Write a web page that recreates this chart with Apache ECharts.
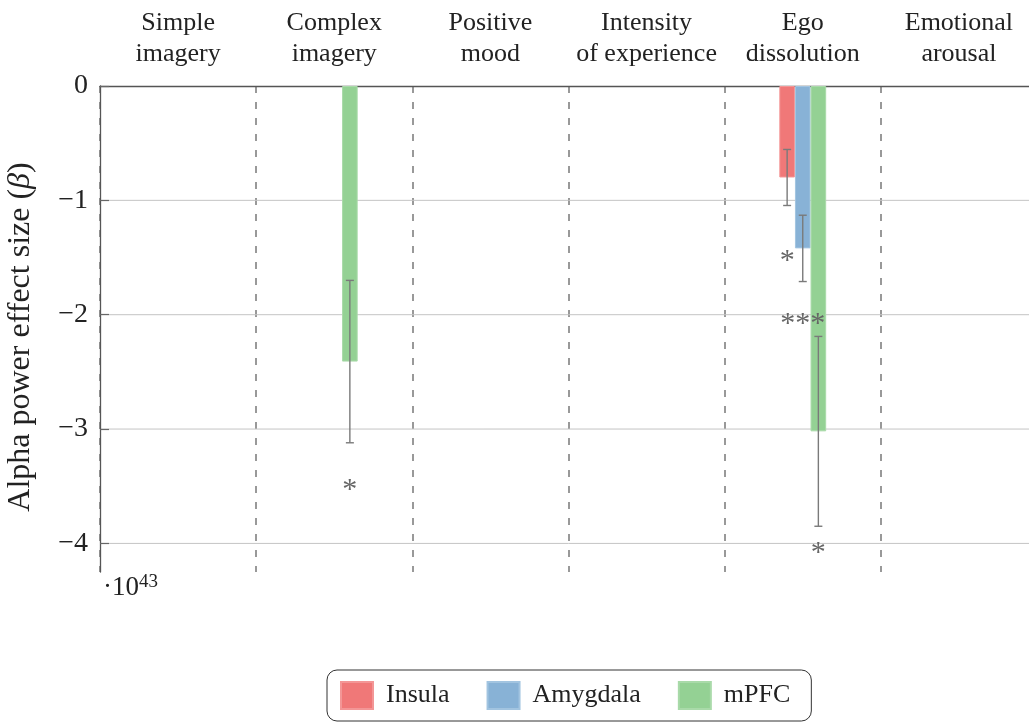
<!DOCTYPE html>
<html>
<head>
<meta charset="utf-8">
<script src="https://cdn.jsdelivr.net/npm/echarts@6/dist/echarts.min.js"></script>
<style>
  html, body { margin: 0; padding: 0; background: #fff; overflow: hidden; }
  #chart { width: 1037px; height: 723px; }
</style>
</head>
<body>
<div id="chart"></div>
<script>
// Rating dimensions (one band each)
const categories = ['Simple\nimagery', 'Complex\nimagery', 'Positive\nmood',
  'Intensity\nof experience', 'Ego\ndissolution', 'Emotional\narousal'];

// Alpha power effect sizes (x 10^43) per region; null = not shown
const insula      = [null, null, null, null, -0.80, null];
const amygdala    = [null, null, null, null, -1.42, null];
const mpfc        = [null, -2.41, null, null, -3.02, null];

// Half-widths of the error bars
const insulaErr   = [null, null, null, null, 0.245, null];
const amygdalaErr = [null, null, null, null, 0.29, null];
const mpfcErr     = [null, 0.71, null, null, 0.83, null];

// Significance markers and the value level where each one sits
const insulaSig    = [null, null, null, null, '*', null];
const amygdalaSig  = [null, null, null, null, '***', null];
const mpfcSig      = [null, '*', null, null, '*', null];
const insulaSigY   = [null, null, null, null, -1.50, null];
const amygdalaSigY = [null, null, null, null, -2.05, null];
const mpfcSigY     = [null, -3.50, null, null, -4.05, null];

// Value axis
const yTicks = [0, -1, -2, -3, -4];
const yMin = -4.25;
const yMax = 0;

const regions = ['Insula', 'Amygdala', 'mPFC'];
const colors = ['#F07878', '#88B2D6', '#94D194'];
const borders = ['#F39696', '#A2C4E0', '#A9DAA9'];

const FONT = 'Liberation Serif';
const BAR_FRAC = 0.1; // bar width as a fraction of a band

const values = [insula, amygdala, mpfc];
const errs = [insulaErr, amygdalaErr, mpfcErr];
const sigs = [insulaSig, amygdalaSig, mpfcSig];
const sigYs = [insulaSigY, amygdalaSigY, mpfcSigY];

// Offset of a region's bar centre from the band centre
function slotOffset(api, slot) {
  const band = api.size([1, 0])[0];
  return (slot - (regions.length - 1) / 2) * band * BAR_FRAC;
}

const barSeries = regions.map((name, s) => ({
  name: name,
  type: 'bar',
  data: values[s],
  barWidth: (BAR_FRAC * 100) + '%',
  barGap: '0%',
  z: 2,
  itemStyle: { color: colors[s], borderColor: borders[s], borderWidth: 1 }
}));

const errorSeries = regions.map((name, s) => ({
  name: name + ' error',
  type: 'custom',
  z: 3,
  data: values[s].map((v, i) => v == null ? null : [i, v, errs[s][i]]).filter(d => d),
  renderItem: function (params, api) {
    const i = api.value(0), v = api.value(1), e = api.value(2);
    const x = api.coord([i, v])[0] + slotOffset(api, s);
    const yTop = api.coord([i, v + e])[1];
    const yBot = api.coord([i, v - e])[1];
    const cap = 4;
    const st = { stroke: '#7a7a7a', lineWidth: 1.4 };
    return {
      type: 'group',
      children: [
        { type: 'line', shape: { x1: x, y1: yTop, x2: x, y2: yBot }, style: st },
        { type: 'line', shape: { x1: x - cap, y1: yTop, x2: x + cap, y2: yTop }, style: st },
        { type: 'line', shape: { x1: x - cap, y1: yBot, x2: x + cap, y2: yBot }, style: st }
      ]
    };
  }
}));

const sigSeries = regions.map((name, s) => ({
  name: name + ' significance',
  type: 'custom',
  z: 3,
  data: sigs[s].map((t, i) => t == null ? null : [i, sigYs[s][i], t]).filter(d => d),
  renderItem: function (params, api) {
    const i = api.value(0), y = api.value(1);
    const p = api.coord([i, y]);
    return {
      type: 'text',
      x: p[0] + slotOffset(api, s),
      y: p[1] + 4,
      style: {
        text: sigs[s][i],
        fill: '#666',
        font: '30px "' + FONT + '"',
        align: 'center',
        verticalAlign: 'middle'
      }
    };
  }
}));

// Horizontal reference lines at the labelled values
const gridLineSeries = {
  name: 'grid lines',
  type: 'custom',
  z: 1,
  silent: true,
  data: yTicks.filter(t => t !== 0).map(t => [0, t]),
  renderItem: function (params, api) {
    const cs = params.coordSys;
    const y = api.coord([0, api.value(1)])[1];
    return {
      type: 'line',
      shape: { x1: cs.x, y1: y, x2: cs.x + cs.width, y2: y },
      style: { stroke: '#c4c4c4', lineWidth: 1 }
    };
  }
};

const chart = echarts.init(document.getElementById('chart'), null, { renderer: 'canvas' });

chart.setOption({
  animation: false,
  backgroundColor: '#fff',
  textStyle: { fontFamily: FONT },
  grid: { left: 100, top: 86, right: 0, height: 486, containLabel: false, outerBoundsMode: 'none' },
  legend: {
    data: regions,
    left: 327,
    top: 670,
    icon: 'rect',
    itemWidth: 32,
    itemHeight: 27,
    itemGap: 37,
    borderColor: '#333',
    borderWidth: 1,
    borderRadius: 10,
    padding: [11, 21, 11, 13],
    textStyle: { fontFamily: FONT, fontSize: 26, color: '#222', padding: [0, 0, 0, 8] }
  },
  xAxis: {
    type: 'category',
    position: 'top',
    data: categories,
    boundaryGap: true,
    z: 0,
    axisLine: { lineStyle: { color: '#555', width: 1.3 } },
    axisTick: { alignWithLabel: true, length: 9, lineStyle: { color: '#aaa', width: 1.3 } },
    splitLine: { show: true, lineStyle: { color: '#808080', width: 1.6, type: [7, 9] } },
    axisLabel: {
      fontFamily: FONT, fontSize: 26, lineHeight: 31, color: '#222', margin: 16, interval: 0
    }
  },
  yAxis: {
    type: 'value',
    min: yMin,
    max: yMax,
    z: 1,
    name: '{a|Alpha power effect size (}{b|β}{a|)}',
    nameLocation: 'middle',
    nameGap: 63,
    nameRotate: 90,
    nameTextStyle: {
      padding: [0, 16, 0, 0],
      rich: {
        a: { fontFamily: FONT, fontSize: 32, color: '#222' },
        b: { fontFamily: FONT, fontSize: 32, color: '#222', fontStyle: 'italic' }
      }
    },
    axisLine: { show: true, lineStyle: { color: '#555', width: 1.3 } },
    axisTick: { show: true, inside: true, length: 9, customValues: yTicks,
      lineStyle: { color: '#666', width: 1.2 } },
    splitLine: { show: false },
    axisLabel: {
      customValues: yTicks,
      fontFamily: FONT, fontSize: 28, color: '#222', margin: 12,
      formatter: v => v === 0 ? '0' : (v < 0 ? '\u2212' + Math.abs(v) : String(v))
    }
  },
  graphic: [{
    type: 'text',
    left: 103,
    top: 573,
    style: {
      text: '{a|\u00b710}{s|43}',
      rich: {
        a: { fontFamily: FONT, fontSize: 27, fill: '#222', lineHeight: 30 },
        s: { fontFamily: FONT, fontSize: 19, fill: '#222', lineHeight: 30, verticalAlign: 'top', padding: [0, 0, 12, 0] }
      }
    }
  }],
  series: [gridLineSeries].concat(barSeries, errorSeries, sigSeries)
});
</script>
</body>
</html>
